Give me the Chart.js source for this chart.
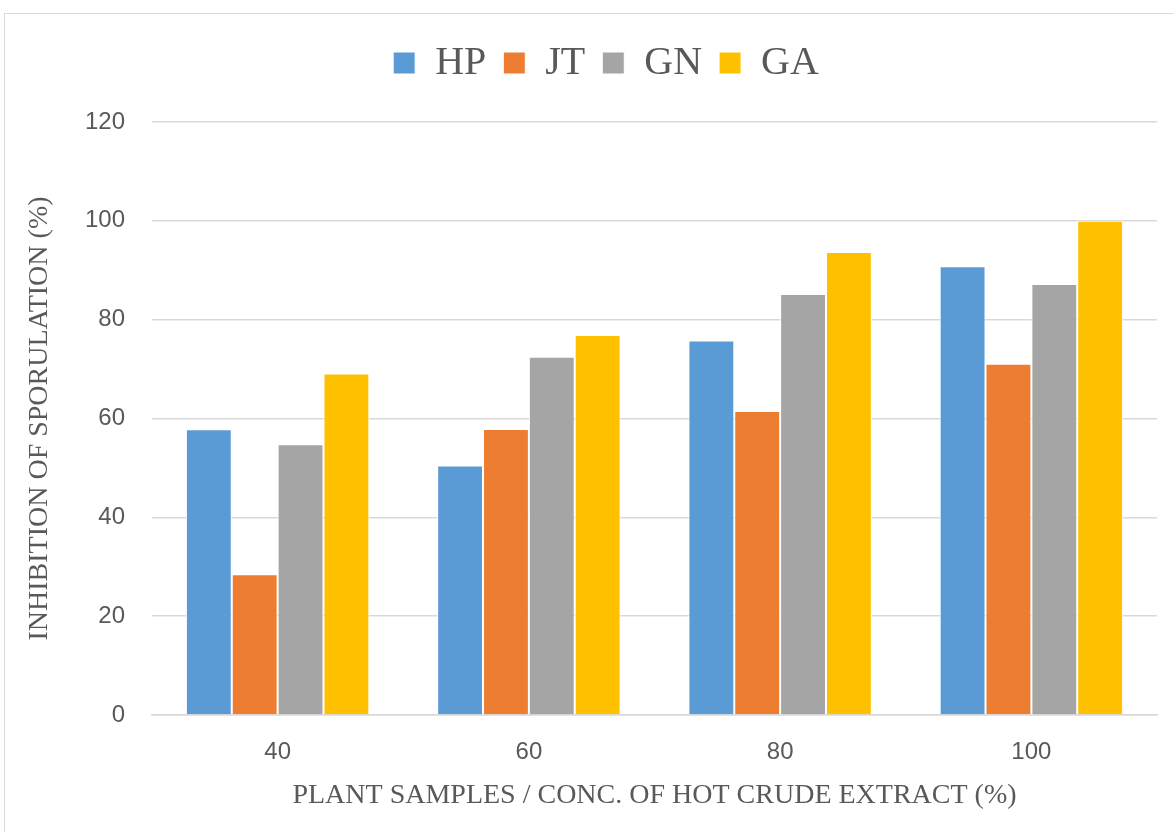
<!DOCTYPE html>
<html>
<head>
<meta charset="utf-8">
<script src="https://cdn.jsdelivr.net/npm/chart.js@4.4.1/dist/chart.umd.min.js"></script>
<style>
    html, body { margin: 0; padding: 0; background: #fff; overflow: hidden; }
    #wrap {
        position: absolute; left: 4px; top: 13px;
        width: 1202px; height: 830px;
        border: 1px solid #d9d9d9;
    }
    canvas { display: block; }
</style>
</head>
<body>
<div id="wrap"><canvas id="sporeChart" width="1202" height="830"></canvas></div>
<script>
// Data
const categories = ['40', '60', '80', '100'];
const seriesNames = ['HP', 'JT', 'GN', 'GA'];
const hpValues = [57.8, 50.5, 75.8, 90.8];
const jtValues = [28.5, 57.9, 61.5, 71.1];
const gnValues = [54.8, 72.5, 85.2, 87.2];
const gaValues = [69.1, 76.9, 93.7, 100];
const yTicks = [0, 20, 40, 60, 80, 100, 120];

const colors = ['#5B9BD5', '#ED7D31', '#A5A5A5', '#FFC000'];
const greyText = '#595959';
const gridGrey = '#d9d9d9';

// Legend ekstra hoejde, saa plot starter samme sted som i originalen
const legendHeight = {
    id: 'legendHeight',
    beforeInit(chart) {
        const origFit = chart.legend.fit;
        chart.legend.fit = function () {
            origFit.bind(chart.legend)();
            this.height = 96;
        };
    }
};

const ctx = document.getElementById('sporeChart').getContext('2d');
new Chart(ctx, {
    type: 'bar',
    data: {
        labels: categories,
        datasets: [hpValues, jtValues, gnValues, gaValues].map((vals, i) => ({
            label: seriesNames[i],
            data: vals,
            backgroundColor: colors[i],
            borderColor: '#ffffff',
            borderWidth: 1,
            categoryPercentage: 0.73,
            barPercentage: 1.0
        }))
    },
    options: {
        responsive: false,
        animation: false,
        layout: { padding: { top: 12, left: 0, right: 0, bottom: 0 } },
        plugins: {
            legend: {
                position: 'top',
                labels: {
                    boxWidth: 22,
                    boxHeight: 22,
                    padding: 17,
                    color: greyText,
                    font: { family: '"Liberation Serif", "Times New Roman", serif', size: 40 }
                }
            },
            tooltip: { enabled: false }
        },
        scales: {
            x: {
                grid: { display: false, drawTicks: false },
                border: { display: true, color: gridGrey, width: 1.5 },
                ticks: {
                    color: greyText,
                    padding: 23,
                    font: { family: '"Liberation Sans", Arial, sans-serif', size: 24 }
                },
                title: {
                    display: true,
                    text: 'PLANT SAMPLES / CONC. OF HOT CRUDE EXTRACT (%)',
                    color: greyText,
                    font: { family: '"Liberation Serif", "Times New Roman", serif', size: 28 },
                    padding: { top: 0, bottom: 32 }
                },
                afterFit: scale => { scale.height = 129; }
            },
            y: {
                min: 0,
                max: 120,
                afterBuildTicks: scale => { scale.ticks = yTicks.map(v => ({ value: v })); },
                grid: { color: gridGrey, lineWidth: 1.5, drawTicks: false },
                border: { display: false },
                ticks: {
                    color: greyText,
                    padding: 27,
                    font: { family: '"Liberation Sans", Arial, sans-serif', size: 24 }
                },
                title: {
                    display: true,
                    text: 'INHIBITION OF SPORULATION (%)',
                    color: greyText,
                    font: { family: '"Liberation Serif", "Times New Roman", serif', size: 28 },
                    padding: { top: 18, bottom: 0 }
                },
                afterFit: scale => { scale.width = 147; }
            },
            yRight: {
                position: 'right',
                display: true,
                grid: { display: false, drawTicks: false },
                border: { display: false },
                ticks: { display: false },
                afterFit: scale => { scale.width = 50; }
            }
        }
    },
    plugins: [legendHeight]
});
</script>
</body>
</html>
